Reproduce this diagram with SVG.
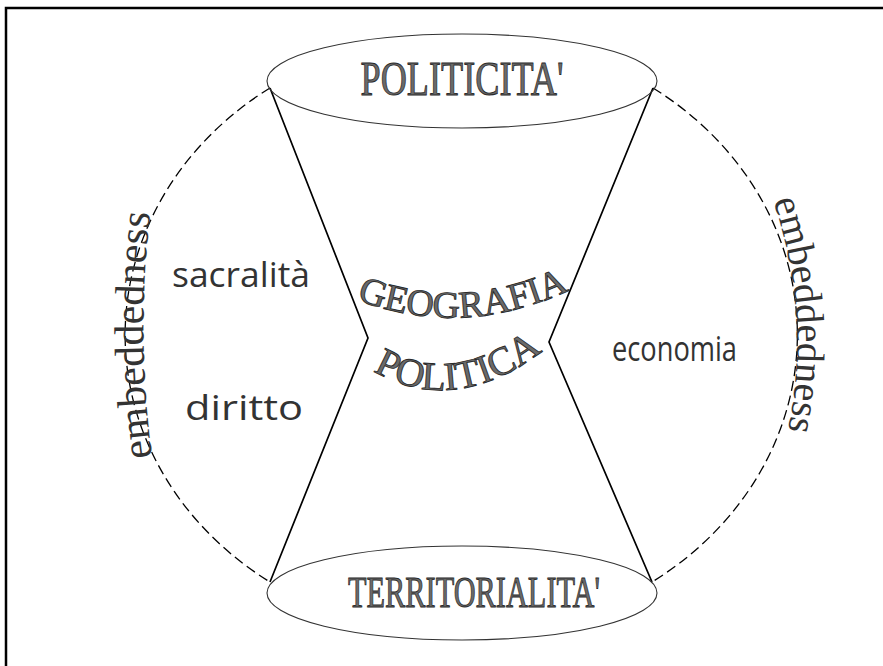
<svg xmlns="http://www.w3.org/2000/svg" width="883" height="666" viewBox="0 0 883 666">
<style>
.frame{fill:none;stroke:#000;stroke-width:2.5}
.ell{fill:none;stroke:#333;stroke-width:1.1}
.edge{fill:none;stroke:#000;stroke-width:1.7}
.dash{fill:none;stroke:#000;stroke-width:1.3;stroke-dasharray:10 5}
.word{font-family:"Liberation Serif",serif;fill:#6a6a6a;stroke:#2a2a2a;stroke-width:0.9}
.emb{font-family:"Liberation Serif",serif;fill:#333}
.lbl{font-family:"Open Sans","Lato",sans-serif;fill:#333;font-size:34px}
</style>
<defs>
<path id="pGeo" d="M 352 298 Q 462 342 574 288"/>
<path id="pPol" d="M 352 357 Q 452 433 562 335"/>
<path id="pEmbL" d="M 154 470 Q 134 335 152 200"/>
<path id="pEmbR" d="M 770 192 Q 814 315 786 440"/>
</defs>
<rect class="frame" x="6" y="8" width="900" height="700"/>
<g id="connectors">
<path class="edge" d="M 270 88 L 368 338 L 270 582"/>
<path class="edge" d="M 653 88 L 549 342 L 652 582"/>
<path class="dash" d="M 270 88 A 335 300 0 0 0 270 582"/>
<path class="dash" d="M 653 88 A 335 300 0 0 1 652 582"/>
</g>
<g id="politicita">
<ellipse class="ell" cx="462" cy="81" rx="195" ry="47"/>
<text class="word" x="462" y="95" font-size="48" text-anchor="middle" textLength="203" lengthAdjust="spacingAndGlyphs">POLITICITA'</text>
</g>
<g id="territorialita">
<ellipse class="ell" cx="462" cy="593" rx="195" ry="47"/>
<text class="word" x="474" y="607" font-size="44" text-anchor="middle" textLength="252" lengthAdjust="spacingAndGlyphs">TERRITORIALITA'</text>
</g>
<g id="geografia-politica">
<text class="word" font-size="38"><textPath href="#pGeo" startOffset="50%" text-anchor="middle">GEOGRAFIA</textPath></text>
<text class="word" font-size="40"><textPath href="#pPol" startOffset="50%" text-anchor="middle">POLITICA</textPath></text>
</g>
<g id="sacralita"><text class="lbl" x="172" y="287" textLength="138" lengthAdjust="spacingAndGlyphs">sacralità</text></g>
<g id="diritto"><text class="lbl" x="185" y="420" textLength="118" lengthAdjust="spacingAndGlyphs">diritto</text></g>
<g id="economia"><text class="lbl" x="612" y="361" font-size="36" textLength="125" lengthAdjust="spacingAndGlyphs">economia</text></g>
<g id="embeddedness-left"><text class="emb" font-size="42"><textPath href="#pEmbL" startOffset="50%" text-anchor="middle">embeddedness</textPath></text></g>
<g id="embeddedness-right"><text class="emb" font-size="40"><textPath href="#pEmbR" startOffset="50%" text-anchor="middle">embeddedness</textPath></text></g>
</svg>
